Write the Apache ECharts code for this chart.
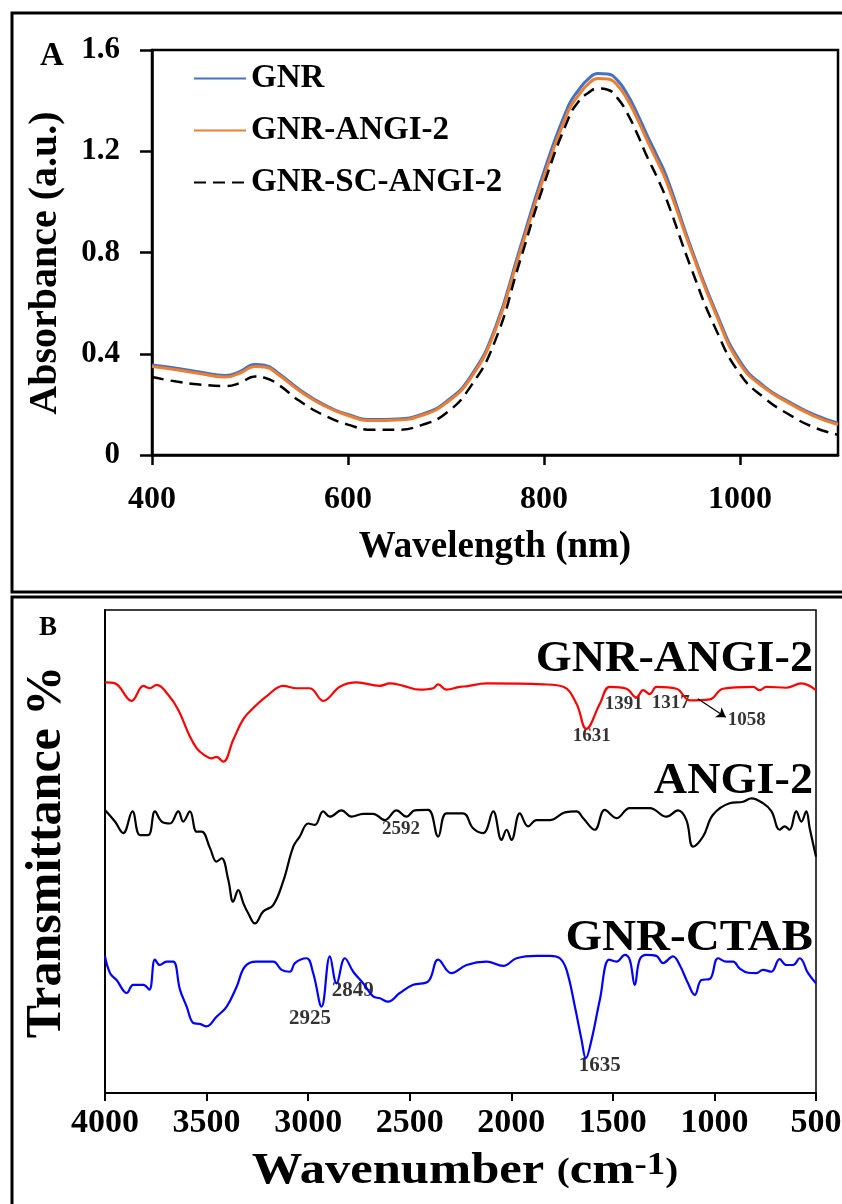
<!DOCTYPE html>
<html>
<head>
<meta charset="utf-8">
<script src="https://cdn.jsdelivr.net/npm/echarts@6/dist/echarts.min.js"></script>
<style>
  html, body { margin: 0; padding: 0; background: #fff; }
  #main { width: 842px; height: 1204px; }
</style>
</head>
<body>
<div id="main"></div>
<script>
// ---- panel A : UV-Vis ----
var wavelength = [400,425,450,475,490,505,515,530,550,575,600,625,650,675,700,725,750,775,800,825,835,845,855,865,875,885,895,905,915,925,950,975,1000,1025,1050,1075,1100];
var absGnr = [0.356,0.343,0.327,0.314,0.33,0.358,0.355,0.32,0.26,0.2,0.16,0.14,0.142,0.16,0.21,0.31,0.5,0.81,1.12,1.38,1.44,1.485,1.507,1.505,1.48,1.425,1.35,1.265,1.185,1.1,0.82,0.57,0.37,0.27,0.21,0.16,0.126];
var absGnrAngi = [0.35,0.337,0.321,0.308,0.324,0.35,0.348,0.314,0.255,0.196,0.156,0.136,0.138,0.156,0.205,0.303,0.49,0.795,1.1,1.36,1.42,1.465,1.487,1.485,1.46,1.405,1.33,1.245,1.165,1.08,0.81,0.56,0.36,0.265,0.205,0.155,0.12];
var absGnrScAngi = [0.308,0.29,0.278,0.272,0.285,0.31,0.305,0.275,0.215,0.158,0.12,0.1,0.1,0.118,0.165,0.27,0.45,0.76,1.07,1.33,1.395,1.43,1.448,1.443,1.41,1.35,1.27,1.18,1.1,1.01,0.74,0.5,0.32,0.225,0.16,0.11,0.08];
var uvNames = ['GNR', 'GNR-ANGI-2', 'GNR-SC-ANGI-2'];

// ---- panel B : FTIR (offset transmittance, arbitrary units) ----
var wnGnrAngi = [4000,3951,3869,3811,3779,3746,3688,3639,3582,3549,3516,3475,3451,3418,3369,3319,3270,3205,3123,3057,2992,2926,2844,2762,2647,2598,2532,2450,2385,2360,2319,2254,2220,2122,1843,1744,1679,1631,1564,1515,1433,1384,1351,1318,1285,1187,1121,1023,958,810,777,744,646,572,500];
var tGnrAngi = [85.0,84.8,81.2,84.3,83.8,84.5,82.4,79.3,73.8,71.4,70.1,69.3,69.6,68.6,73.1,77.4,79.7,82.1,84.3,83.8,83.8,81.2,84.1,85.0,84.3,84.8,84.3,83.5,83.8,84.6,83.5,84.1,84.2,84.8,84.6,84.1,80.6,75.4,80.6,84.1,83.7,81.9,83.4,82.6,84.1,83.7,81.3,81.5,83.7,84.1,83.4,84.1,83.9,84.8,83.4];
var wnAngi = [4000,3951,3910,3865,3828,3787,3754,3721,3680,3639,3615,3582,3549,3524,3483,3451,3426,3393,3369,3344,3319,3295,3262,3221,3172,3123,3073,3041,3000,2967,2926,2893,2836,2786,2729,2680,2622,2565,2516,2475,2409,2360,2319,2237,2188,2138,2089,2048,2023,1999,1958,1917,1876,1810,1736,1679,1646,1589,1540,1482,1417,1318,1236,1179,1138,1105,1056,1007,925,859,818,761,719,679,654,630,597,572,548,531,500];
var tAngi = [58.6,56.2,53.8,58.3,53.4,53.4,58.3,56.2,55.8,58.3,56.2,58.3,54.1,54.1,50.7,47.9,48.6,44.1,39.6,42.0,39.3,37.2,35.1,37.6,38.9,43.8,51.0,53.1,55.8,55.5,58.3,57.2,58.5,57.2,57.8,57.8,56.5,58.5,57.2,58.5,58.6,53.1,57.9,57.9,54.8,53.8,58.3,52.4,54.5,52.4,57.9,55.2,56.5,56.5,58.1,58.3,56.9,54.5,58.6,56.9,59.0,59.0,57.2,58.5,56.5,51.0,53.1,57.6,60.0,60.3,61.0,60.0,58.3,54.5,55.2,54.5,58.3,56.2,58.3,54.8,48.9];
var wnCtab = [4000,3975,3943,3893,3861,3811,3782,3754,3730,3697,3664,3631,3598,3565,3533,3500,3451,3401,3352,3311,3254,3172,3131,3090,3065,3008,2975,2934,2893,2860,2819,2778,2729,2680,2647,2606,2549,2483,2409,2360,2295,2220,2122,2040,1974,1876,1810,1761,1728,1687,1654,1633,1605,1564,1518,1482,1441,1417,1392,1368,1335,1286,1253,1204,1171,1130,1097,1064,1023,982,941,908,876,834,794,761,720,679,646,613,580,539,500];
var tCtab = [28.3,24.8,23.4,20.7,22.4,22.4,21.4,27.6,26.5,27.2,27.2,21.4,17.9,14.5,14.3,13.8,15.8,17.9,22.0,26.2,27.2,27.2,25.5,25.1,26.9,27.9,24.8,17.9,28.3,22.7,27.9,25.1,22.7,20.0,19.6,18.9,20.7,22.4,23.1,27.6,24.8,26.5,27.2,26.3,27.9,28.4,28.4,27.9,25.5,17.9,11.0,7.2,11.0,19.3,27.6,27.2,28.6,27.6,22.4,27.6,28.6,28.4,26.9,28.3,26.5,22.7,20.3,23.4,23.6,27.9,27.2,27.2,25.8,24.9,24.8,25.5,25.1,27.7,26.5,26.5,27.9,24.8,22.7];

// peak labels (position in data units)
var peakText = ['1631', '1391', '1317', '1058', '2592', '2849', '2925', '1635'];
var peakWn   = [1604, 1446, 1215, 841, 2543, 2780, 2991, 1564];
var peakT    = [73.9, 80.5, 80.7, 77.2, 54.7, 21.3, 15.5, 5.6];
var peakSize = [19, 19, 19, 19, 19, 21, 21, 21];

var serif = "'Liberation Serif', 'Times New Roman', serif";

function pairs(xs, ys) {
    var out = [];
    for (var i = 0; i < xs.length; i++) out.push([xs[i], ys[i]]);
    return out;
}

var peakData = [];
for (var i = 0; i < peakText.length; i++) {
    peakData.push({
        value: [peakWn[i], peakT[i], peakText[i]],
        label: { fontSize: peakSize[i] }
    });
}

function plain(v) { return String(v); }

var chart = echarts.init(document.getElementById('main'));
chart.setOption({
    animation: false,
    backgroundColor: '#fff',
    legend: {
        data: uvNames,
        orient: 'vertical',
        left: 188,
        top: 57,
        itemWidth: 52,
        itemHeight: 14,
        itemGap: 19,
        itemStyle: { opacity: 0 },
        textStyle: { fontFamily: serif, fontWeight: 'bold', fontSize: 33, color: '#000' }
    },
    grid: [
        { left: 152, top: 50, right: 4, bottom: 749, show: true, borderColor: '#000', borderWidth: 2.5,
          containLabel: false, outerBoundsMode: 'none' },
        { left: 105, top: 610, right: 26, bottom: 111, show: true, borderColor: '#000', borderWidth: 1.5,
          containLabel: false, outerBoundsMode: 'none' }
    ],
    xAxis: [{
        type: 'value', gridIndex: 0, min: 400, max: 1100, interval: 200,
        axisLine: { lineStyle: { color: '#000', width: 2.5 } },
        axisTick: { length: 10, lineStyle: { color: '#000', width: 2.5 } },
        splitLine: { show: false },
        axisLabel: { fontFamily: serif, fontWeight: 'bold', fontSize: 32, color: '#000', margin: 29,
                     showMaxLabel: false, formatter: plain },
        name: 'Wavelength (nm)', nameLocation: 'middle', nameGap: 74,
        nameTextStyle: { fontFamily: serif, fontWeight: 'bold', fontSize: 37, color: '#000' }
    }, {
        type: 'value', gridIndex: 1, min: 500, max: 4000, interval: 500, inverse: true,
        axisLine: { lineStyle: { color: '#000', width: 2 } },
        axisTick: { length: 8, lineStyle: { color: '#000', width: 2 } },
        splitLine: { show: false },
        axisLabel: { fontFamily: serif, fontWeight: 'bold', fontSize: 34, color: '#000', margin: 13,
                     formatter: plain }
    }],
    yAxis: [{
        type: 'value', gridIndex: 0, min: 0, max: 1.6, interval: 0.4,
        axisLine: { show: true, lineStyle: { color: '#000', width: 2.5 } },
        axisTick: { show: true, length: 12, lineStyle: { color: '#000', width: 2.5 } },
        splitLine: { show: false },
        axisLabel: { fontFamily: serif, fontWeight: 'bold', fontSize: 31, color: '#000', margin: 32,
                     padding: [6, 0, 0, 0] }
    }, {
        type: 'value', gridIndex: 1, min: 0, max: 100,
        axisLine: { show: true, lineStyle: { color: '#000', width: 2 } },
        axisTick: { show: false },
        axisLabel: { show: false },
        splitLine: { show: false }
    }],
    series: [{
        name: uvNames[0], type: 'line', xAxisIndex: 0, yAxisIndex: 0,
        data: pairs(wavelength, absGnr), smooth: true, symbol: 'none',
        lineStyle: { color: '#4472C4', width: 3 }, itemStyle: { color: '#4472C4' }
    }, {
        name: uvNames[1], type: 'line', xAxisIndex: 0, yAxisIndex: 0,
        data: pairs(wavelength, absGnrAngi), smooth: true, symbol: 'none',
        lineStyle: { color: '#ED7D31', width: 3 }, itemStyle: { color: '#ED7D31' }
    }, {
        name: uvNames[2], type: 'line', xAxisIndex: 0, yAxisIndex: 0,
        data: pairs(wavelength, absGnrScAngi), smooth: true, symbol: 'none',
        lineStyle: { color: '#000', width: 2.5, type: [12, 7] }, itemStyle: { color: '#000' }
    }, {
        name: 'GNR-ANGI-2 FTIR', type: 'line', xAxisIndex: 1, yAxisIndex: 1,
        data: pairs(wnGnrAngi, tGnrAngi), smooth: 0.4, symbol: 'none',
        lineStyle: { color: '#FF0000', width: 2.2 },
        markLine: {
            silent: true, symbol: ['none', 'arrow'], symbolSize: 9,
            label: { show: false },
            lineStyle: { color: '#000', width: 1.2, type: 'solid' },
            data: [[{ coord: [1082, 81.6] }, { coord: [944, 77.8] }]]
        }
    }, {
        name: 'ANGI-2 FTIR', type: 'line', xAxisIndex: 1, yAxisIndex: 1,
        data: pairs(wnAngi, tAngi), smooth: 0.4, symbol: 'none',
        lineStyle: { color: '#000', width: 2.2 }
    }, {
        name: 'GNR-CTAB FTIR', type: 'line', xAxisIndex: 1, yAxisIndex: 1,
        data: pairs(wnCtab, tCtab), smooth: 0.4, symbol: 'none',
        lineStyle: { color: '#0000FF', width: 2.2 }
    }, {
        name: 'peaks', type: 'scatter', xAxisIndex: 1, yAxisIndex: 1,
        data: peakData, symbolSize: 1, itemStyle: { color: 'rgba(0,0,0,0)' },
        label: {
            show: true, position: 'inside', color: '#000',
            fontFamily: serif, fontWeight: 'bold',
            formatter: function (p) { return p.value[2]; }
        }
    }],
    graphic: [
        // panel frames
        { type: 'rect', shape: { x: 12, y: 13, width: 845, height: 579 }, style: { fill: 'none', stroke: '#000', lineWidth: 3 } },
        { type: 'rect', shape: { x: 12, y: 597, width: 845, height: 640 }, style: { fill: 'none', stroke: '#000', lineWidth: 3 } },
        { type: 'text', x: 52, y: 56, style: { text: 'A', font: 'bold 33px ' + serif, fill: '#000', textAlign: 'center', textVerticalAlign: 'middle' } },
        { type: 'text', x: 48, y: 628, style: { text: 'B', font: 'bold 27px ' + serif, fill: '#000', textAlign: 'center', textVerticalAlign: 'middle' } },
        { type: 'text', x: 46, y: 263, rotation: Math.PI / 2,
          style: { text: 'Absorbance (a.u.)', font: 'bold 40px ' + serif, fill: '#000', textAlign: 'center', textVerticalAlign: 'middle' } },
        { type: 'text', x: 47, y: 852, rotation: Math.PI / 2,
          style: { text: 'Transmittance %', font: 'bold 50px ' + serif, fill: '#000', textAlign: 'center', textVerticalAlign: 'middle' } },
        { type: 'text', x: 813, y: 660, scaleX: 1.05, style: { text: 'GNR-ANGI-2', font: 'bold 44px ' + serif, fill: '#000', textAlign: 'right', textVerticalAlign: 'middle' } },
        { type: 'text', x: 813, y: 782, scaleX: 1.05, style: { text: 'ANGI-2', font: 'bold 44px ' + serif, fill: '#000', textAlign: 'right', textVerticalAlign: 'middle' } },
        { type: 'text', x: 813, y: 939, scaleX: 1.07, style: { text: 'GNR-CTAB', font: 'bold 44px ' + serif, fill: '#000', textAlign: 'right', textVerticalAlign: 'middle' } },
        { type: 'text', x: 465, y: 1172, scaleX: 1.15,
          style: {
              text: 'Wavenumber {p|(}cm{s|-1}{p|)}',
              font: 'bold 44px ' + serif, fill: '#000', textAlign: 'center', textVerticalAlign: 'middle',
              rich: {
                  p: { fontFamily: serif, fontWeight: 'bold', fontSize: 34, fill: '#000' },
                  s: { fontFamily: serif, fontWeight: 'bold', fontSize: 32, fill: '#000', verticalAlign: 'top' }
              }
          } }
    ]
});
</script>
</body>
</html>
